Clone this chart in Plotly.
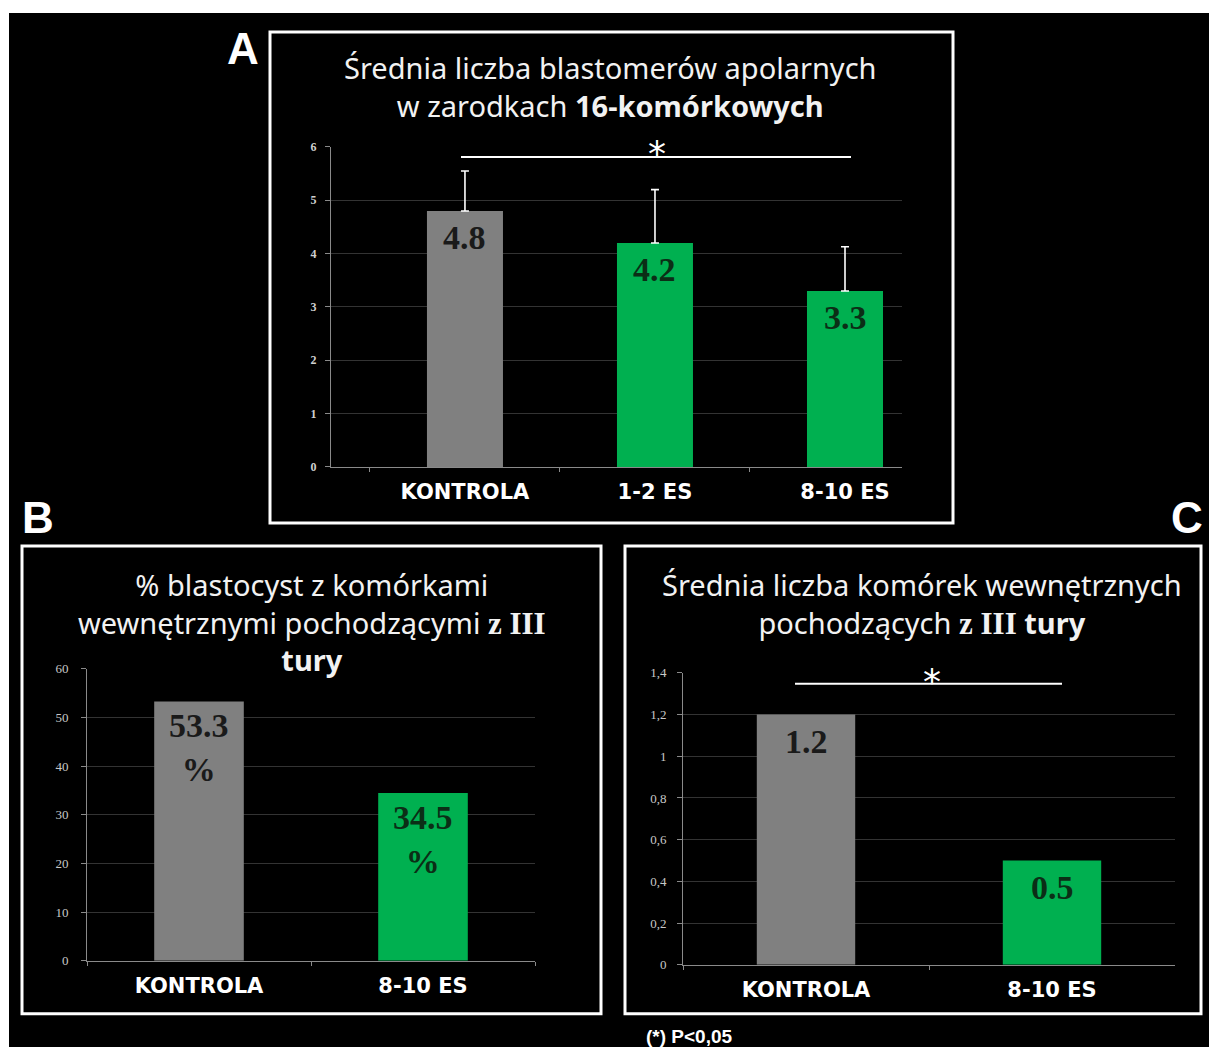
import plotly.graph_objects as go

W, H = 1209, 1055

# ---------------- data ----------------
cats_A = ["KONTROLA", "1-2 ES", "8-10 ES"]
vals_A = [4.8, 4.2, 3.3]
err_A = [0.75, 1.0, 0.83]
ticks_A = [0, 1, 2, 3, 4, 5, 6]

cats_B = ["KONTROLA", "8-10 ES"]
vals_B = [53.3, 34.5]
ticks_B = [0, 10, 20, 30, 40, 50, 60]

cats_C = ["KONTROLA", "8-10 ES"]
vals_C = [1.2, 0.5]
ticks_C = [0, 0.2, 0.4, 0.6, 0.8, 1.0, 1.2, 1.4]
ticklabels_C = ["0", "0,2", "0,4", "0,6", "0,8", "1", "1,2", "1,4"]

GRAY = "#808080"
GREEN = "#00B050"


def colors_for(cats):
    return [GRAY if c == "KONTROLA" else GREEN for c in cats]


def label_colors(cats):
    return ["#1a1a1a" if c == "KONTROLA" else "#0b2e16" for c in cats]


def px(x):
    return x / W


def py(y):
    # compensates the slight vertical squeeze seen in the rendered page
    ys = (y - 6) / 0.986
    return 1 - ys / H


fig = go.Figure()

fig.add_trace(go.Bar(
    x=cats_A, y=vals_A, marker=dict(color=colors_for(cats_A), line=dict(width=0)),
    width=0.4, xaxis="x", yaxis="y",
    error_y=dict(type="data", symmetric=False, array=err_A, arrayminus=[0] * len(err_A),
                 color="white", thickness=1.6, width=4),
    showlegend=False, hoverinfo="x+y"))
fig.add_trace(go.Bar(
    x=cats_B, y=vals_B, marker=dict(color=colors_for(cats_B), line=dict(width=0)),
    width=0.4, xaxis="x2", yaxis="y2", showlegend=False, hoverinfo="x+y"))
fig.add_trace(go.Bar(
    x=cats_C, y=vals_C, marker=dict(color=colors_for(cats_C), line=dict(width=0)),
    width=0.4, xaxis="x3", yaxis="y3", showlegend=False, hoverinfo="x+y"))

annotations = []
VAL_FONT = "Liberation Serif"
for cats, vals, ax, fmt, shift in [
    (cats_A, vals_A, "", "{}", -6),
    (cats_B, vals_B, "2", "{}<br>%", -4),
    (cats_C, vals_C, "3", "{}", -6),
]:
    for c, v, col in zip(cats, vals, label_colors(cats)):
        annotations.append(dict(
            x=c, y=v, xref="x" + ax, yref="y" + ax, text=fmt.format(v),
            showarrow=False, yanchor="top", yshift=shift,
            font=dict(family=VAL_FONT, size=34, color=col, weight="bold")))

TITLE_FONT = "Noto Sans"
SERIF_B = '<span style="font-family:Liberation Serif;font-size:31px"><b>z III</b></span>'
titles = [
    ("Średnia liczba blastomerów apolarnych<br>w zarodkach <b>16-komórkowych</b>", 610, 85.5),
    ("% blastocyst z komórkami<br>wewnętrznymi pochodzącymi " + SERIF_B + "<br><b>tury</b>", 312, 621.5),
    ("Średnia liczba komórek wewnętrznych<br>pochodzących " + SERIF_B + " <b>tury</b>", 922, 602.5),
]
for txt, x, y in titles:
    annotations.append(dict(
        x=px(x), y=py(y), xref="paper", yref="paper", text=txt, showarrow=False,
        xanchor="center", yanchor="middle", align="center",
        font=dict(family=TITLE_FONT, size=29, color="#f2f2f2")))

# panel letters
for letter, x, y in [("A", 243, 48), ("B", 38, 517), ("C", 1187, 517)]:
    annotations.append(dict(
        x=px(x), y=py(y), xref="paper", yref="paper", text=letter, showarrow=False,
        xanchor="center", yanchor="middle",
        font=dict(family="Liberation Sans", size=44, color="white", weight="bold")))

# significance asterisks
for x, y in [(657, 153), (932, 681)]:
    annotations.append(dict(
        x=px(x), y=py(y), xref="paper", yref="paper", text="*", showarrow=False,
        xanchor="center", yanchor="middle",
        font=dict(family="DejaVu Sans", size=36, color="white")))

# footnote
annotations.append(dict(
    x=px(690), y=py(1036), xref="paper", yref="paper", text="(*) P<0,05",
    showarrow=False, xanchor="center", yanchor="middle",
    font=dict(family="Liberation Sans", size=19, color="white", weight="bold")))

shapes = [
    dict(type="rect", xref="paper", yref="paper", x0=px(9), x1=1, y0=0, y1=py(12),
         fillcolor="black", line=dict(width=0), layer="below"),
]
for x0, y0, x1, y1 in [(270, 31, 953, 522), (22, 545, 601, 1013), (625, 545, 1201, 1013)]:
    shapes.append(dict(type="rect", xref="paper", yref="paper",
                       x0=px(x0), x1=px(x1), y0=py(y1), y1=py(y0),
                       line=dict(color="white", width=3), fillcolor="rgba(0,0,0,0)"))
for x0, x1, y in [(461, 851, 156), (795, 1062, 683)]:
    shapes.append(dict(type="line", xref="paper", yref="paper",
                       x0=px(x0), x1=px(x1), y0=py(y), y1=py(y),
                       line=dict(color="white", width=2)))

XTICK_FONT = dict(family="DejaVu Sans", size=21, color="white", weight="bold")


def xaxis_cfg(x0, x1, anchor, rng=None):
    d = dict(domain=[px(x0), px(x1)], anchor=anchor, type="category",
             showgrid=False, showline=True, linecolor="#8a8a8a", linewidth=1,
             ticks="outside", tickson="boundaries", ticklen=4, tickcolor="#8a8a8a",
             tickfont=XTICK_FONT, ticklabelstandoff=6, fixedrange=True, zeroline=False)
    if rng is not None:
        d["range"] = rng
    return d


def yaxis_cfg(ybot, ytop, anchor, rng, tickvals, ticktext, font, standoff):
    return dict(domain=[py(ybot), py(ytop)], anchor=anchor, range=rng,
                tickvals=tickvals, ticktext=ticktext,
                showgrid=True, gridcolor="#333333", gridwidth=1,
                showline=True, linecolor="#8a8a8a", linewidth=1,
                ticks="outside", ticklen=5, tickcolor="#8a8a8a",
                tickfont=font, ticklabelstandoff=standoff,
                zeroline=False, fixedrange=True)


fig.update_layout(
    width=W, height=H, margin=dict(l=0, r=0, t=0, b=0),
    paper_bgcolor="white", plot_bgcolor="rgba(0,0,0,0)",
    showlegend=False,
    xaxis=xaxis_cfg(331, 902, "y", [-0.705, 2.3]),
    yaxis=yaxis_cfg(466, 146, "x", [0, 6], ticks_A, [str(t) for t in ticks_A],
                    dict(family="Liberation Serif", size=12, color="#d0d0d0", weight="bold"), 6),
    xaxis2=xaxis_cfg(87, 535, "y2"),
    yaxis2=yaxis_cfg(960, 668, "x2", [0, 60], ticks_B, [str(t) for t in ticks_B],
                     dict(family="Liberation Serif", size=13, color="#c8c8c8"), 10),
    xaxis3=xaxis_cfg(683, 1175, "y3"),
    yaxis3=yaxis_cfg(964, 672, "x3", [0, 1.4], ticks_C, ticklabels_C,
                     dict(family="Liberation Serif", size=13, color="#c8c8c8"), 8),
    annotations=annotations, shapes=shapes,
)

fig.write_html("out.html")
